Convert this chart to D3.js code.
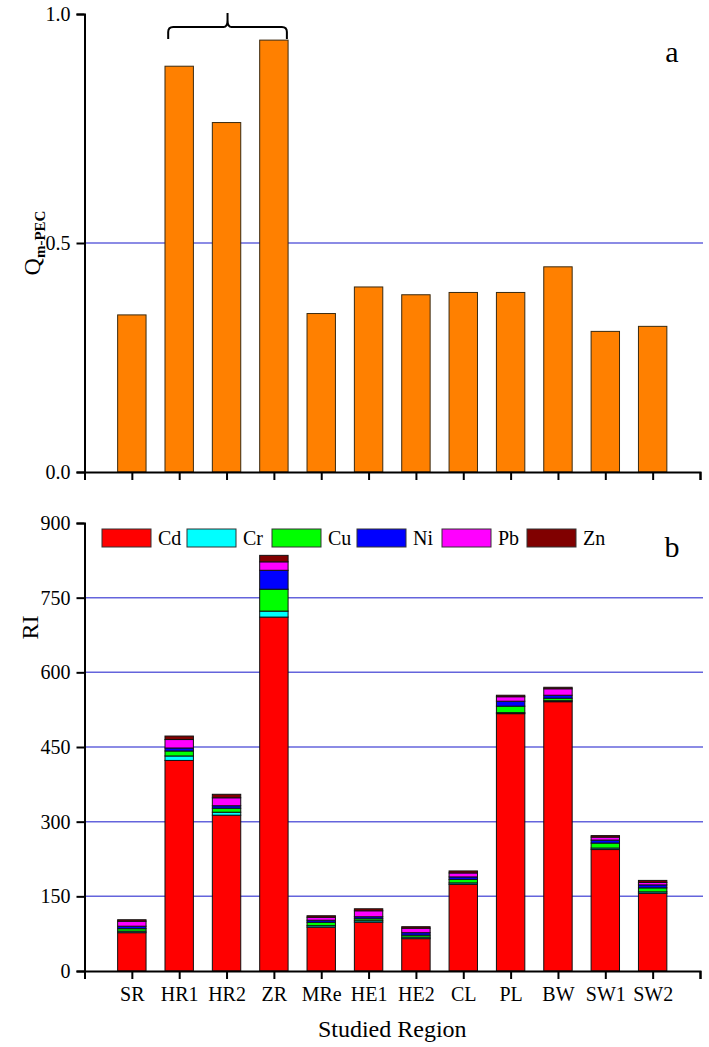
<!DOCTYPE html>
<html><head><meta charset="utf-8">
<script src="https://cdnjs.cloudflare.com/ajax/libs/d3/7.8.5/d3.min.js"></script>
<style>
body{margin:0;background:#fff;}
svg text{font-family:'Liberation Serif','DejaVu Serif','Times New Roman',Times,serif !important;fill:#000;}
</style></head>
<body><svg id="c" width="709" height="1047"></svg>
<script>
const categories = ["SR","HR1","HR2","ZR","MRe","HE1","HE2","CL","PL","BW","SW1","SW2"];
const qmpec = [0.343,0.886,0.763,0.943,0.346,0.404,0.387,0.392,0.392,0.448,0.307,0.318];
const metals = ["Cd","Cr","Cu","Ni","Pb","Zn"];
const Cd = [77,423,313,711,88,98,65,174,517,541,244,156];
const Cr = [3,9,6,12,3,3,3,3,2,2,3,3];
const Cu = [5,10,8,44,7,4,4,7,13,5,10,8];
const Ni = [5,6,5,38,4,4,5,5,10,6,6,6];
const Pb = [10,17,16,17,6,12,9,8,9,13,6,5];
const Zn = [3,7,7,13,3,4,3,4,3,3,3,4];
const metalColors = ["#ff0000","#00ffff","#00ff00","#0000ff","#ff00ff","#800000"];
const qTicks = [0,0.5,1.0];
const riTicks = [0,150,300,450,600,750,900];
const riGrid = [150,300,450,600,750];

const FONT = "'Liberation Serif','DejaVu Serif','Times New Roman',Times,serif";
const svg = d3.select("#c").attr("font-family",FONT);
const x = d3.scaleLinear().domain([0,13]).range([84.5,700]);
const bw = (x(1)-x(0))*0.6;
const gridColor = "#6464dc";

// ---------- Panel a ----------
const ya = d3.scaleLinear().domain([0,1]).range([472,14]);
svg.append("line").attr("x1",x(0)).attr("x2",703).attr("y1",ya(0.5)).attr("y2",ya(0.5))
  .attr("stroke",gridColor).attr("stroke-width",1.5);
svg.append("g").selectAll("rect").data(qmpec).join("rect")
  .attr("x",(d,i)=>x(i+1)-bw/2).attr("width",bw)
  .attr("y",d=>ya(d)).attr("height",d=>ya(0)-ya(d))
  .attr("fill","#ff8000").attr("stroke","#3a2a10").attr("stroke-width",1);
const axA = svg.append("g").attr("transform",`translate(0,${ya(0)})`)
  .call(d3.axisBottom(x).tickValues(d3.range(0,14)).tickSize(8).tickFormat(""));
const axAy = svg.append("g").attr("transform",`translate(${x(0)},0)`)
  .call(d3.axisLeft(ya).tickValues(qTicks).tickSize(8).tickPadding(6).tickFormat(d3.format(".1f")));
// brace over HR1-ZR
const bx0 = x(2)-11, bx1 = x(4)+13, bm = x(3)+1;
svg.append("path")
  .attr("d",`M${bx0},39 L${bx0},32 Q${bx0},27 ${bx0+5},27 L${bm-4},27 Q${bm},27 ${bm},20 L${bm},13 M${bm},20 Q${bm},27 ${bm+4},27 L${bx1-5},27 Q${bx1},27 ${bx1},32 L${bx1},39`)
  .attr("fill","none").attr("stroke","#000").attr("stroke-width",2);
svg.append("text").attr("x",672).attr("y",62).attr("text-anchor","middle").attr("font-size",30).text("a");
const ql = svg.append("text").attr("transform",`translate(40,${ya(0.5)}) rotate(-90)`)
  .attr("text-anchor","middle").attr("font-size",24);
ql.append("tspan").text("Q");
ql.append("tspan").attr("font-size",15).attr("font-weight","bold").attr("dy",5).text("m-PEC");

// ---------- Panel b ----------
const yb = d3.scaleLinear().domain([0,900]).range([971,523]);
svg.append("g").selectAll("line").data(riGrid).join("line")
  .attr("x1",x(0)).attr("x2",703).attr("y1",d=>yb(d)).attr("y2",d=>yb(d))
  .attr("stroke",gridColor).attr("stroke-width",1.5);
const series = [Cd,Cr,Cu,Ni,Pb,Zn];
const rows = categories.map((c,i)=>{const o={cat:c,idx:i}; metals.forEach((m,k)=>o[m]=series[k][i]); return o;});
const stack = d3.stack().keys(metals)(rows);
svg.append("g").selectAll("g").data(stack).join("g")
  .attr("fill",(d,k)=>metalColors[k])
  .selectAll("rect").data(d=>d).join("rect")
  .attr("x",d=>x(d.data.idx+1)-bw/2).attr("width",bw)
  .attr("y",d=>yb(d[1])).attr("height",d=>yb(d[0])-yb(d[1]))
  .attr("stroke","#111").attr("stroke-width",1);
const axB = svg.append("g").attr("transform",`translate(0,${yb(0)})`)
  .call(d3.axisBottom(x).tickValues(d3.range(0,14)).tickSize(8).tickPadding(8)
    .tickFormat(d=>(d>=1&&d<=12)?categories[d-1]:""));
const axBy = svg.append("g").attr("transform",`translate(${x(0)},0)`)
  .call(d3.axisLeft(yb).tickValues(riTicks).tickSize(8).tickPadding(6));
[axA,axAy,axB,axBy].forEach(a=>{
  a.attr("font-family",FONT);
  a.select(".domain").attr("stroke","#000").attr("stroke-width",2);
  a.selectAll(".tick line").attr("stroke","#000").attr("stroke-width",2);
  a.selectAll("text").attr("font-size",20).attr("font-family",FONT).attr("fill","#000");
});

svg.append("text").attr("x",(x(0)+700)/2).attr("y",1037).attr("text-anchor","middle").attr("font-size",24).text("Studied Region");
svg.append("text").attr("transform",`translate(38,${yb(690)}) rotate(-90)`)
  .attr("text-anchor","middle").attr("font-size",24).text("RI");
svg.append("text").attr("x",672).attr("y",557).attr("text-anchor","middle").attr("font-size",30).text("b");

// legend
const lg = svg.append("g").selectAll("g").data(metals).join("g")
  .attr("transform",(d,i)=>`translate(${102+i*85},529)`);
lg.append("rect").attr("width",49).attr("height",18).attr("fill",(d,i)=>metalColors[i]).attr("stroke","#333").attr("stroke-width",1);
lg.append("text").attr("x",56).attr("y",16).attr("font-size",20).text(d=>d);
</script></body></html>
